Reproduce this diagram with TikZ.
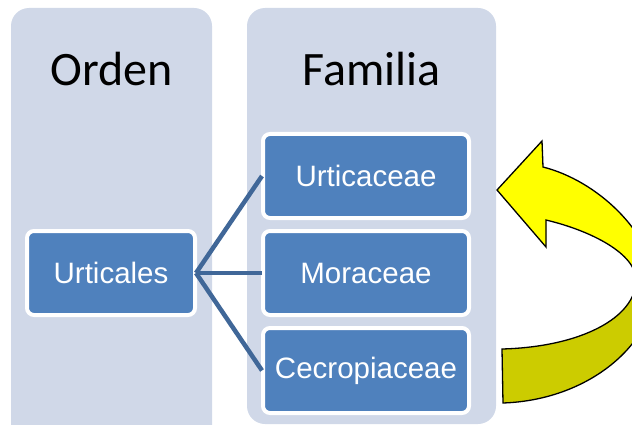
\documentclass[tikz,border=0pt]{standalone}
\usepackage{fontspec}
\setmainfont{Liberation Sans}
\newfontfamily\headfont{Carlito}
\definecolor{panelc}{RGB}{208,216,232}
\definecolor{boxc}{RGB}{79,129,189}
\definecolor{linkc}{RGB}{64,103,152}
\definecolor{ylw}{RGB}{255,255,0}
\definecolor{ylwdark}{RGB}{204,204,0}
\tikzset{
  panel/.style={fill=panelc, draw=none, rounded corners=18pt},
  taxbox/.style={fill=boxc, draw=white, line width=4pt, rounded corners=7pt,
    text=white, font=\fontsize{29.5}{34}\selectfont, inner sep=0pt, anchor=center},
  head/.style={font=\headfont\fontsize{48}{56}\selectfont, text=black, anchor=base},
  link/.style={draw=linkc, line width=4.5pt},
  arrowline/.style={draw=black, line width=1.3pt, line join=miter}
}
\begin{document}
\begin{tikzpicture}[x=1pt,y=-1pt]
\useasboundingbox (0,0) rectangle (632,425);
\clip (0,0) rectangle (632,425);
% panels
\path[panel] (11,8) rectangle (212,445);
\path[panel] (247,8) rectangle (496,424);
\node[head] (orden) at (111.5,86) {Orden};
\node[head] (familia) at (371.5,86) {Familia};
% boxes
\node[taxbox, minimum width=168pt, minimum height=84pt] (urticales) at (111,273) {Urticales};
\node[taxbox, minimum width=206pt, minimum height=84pt] (urticaceae) at (366,176) {Urticaceae};
\node[taxbox, minimum width=206pt, minimum height=84pt] (moraceae) at (366,273) {Moraceae};
\node[taxbox, minimum width=206pt, minimum height=85pt] (cecropiaceae) at (366,370.5) {Cecropiaceae};
% connectors
\coordinate (hub) at ([xshift=-1pt]urticales.east);
\draw[link] (hub) -- ([xshift=1pt]urticaceae.west);
\draw[link] (hub) -- ([xshift=1pt]moraceae.west);
\draw[link] (hub) -- ([xshift=1pt]cecropiaceae.west);
% curved arrow
\def\arrowpath{(543,167) .. controls (598,181) and (650,232) .. (655,280)
  .. controls (658,340) and (592,400) .. (503,403)
  -- (502,349) .. controls (580,347) and (636,318) .. (636,280)
  .. controls (636,254) and (592,231) .. (546,220)
  -- (546,247) -- (497,190) -- (542,141) -- cycle}
\fill[ylwdark] \arrowpath;
\begin{scope}
\clip (480,100) rectangle (700,276);
\fill[ylw] \arrowpath;
\end{scope}
\path[arrowline] \arrowpath;
\end{tikzpicture}
\end{document}
